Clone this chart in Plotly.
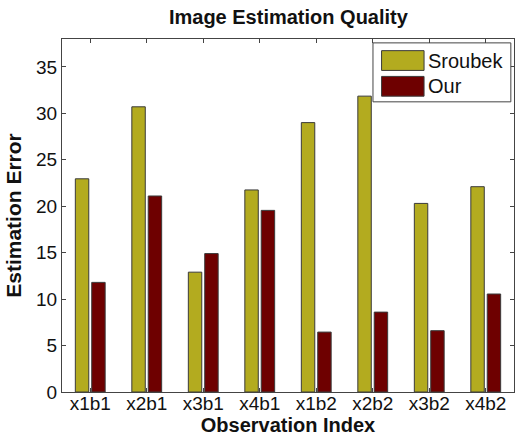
import plotly.graph_objects as go

categories = ["x1b1", "x2b1", "x3b1", "x4b1", "x1b2", "x2b2", "x3b2", "x4b2"]
sroubek = [22.95, 30.7, 12.9, 21.75, 29.0, 31.85, 20.3, 22.1]
our = [11.8, 21.1, 14.9, 19.55, 6.45, 8.6, 6.6, 10.55]
series_names = ["Sroubek", "Our"]
y_ticks = [0, 5, 10, 15, 20, 25, 30, 35]

colors = ["#B3AB1F", "#6E0000"]
FONT = "Liberation Sans, Arial, sans-serif"

fig = go.Figure()
for name, vals, col in zip(series_names, [sroubek, our], colors):
    fig.add_trace(go.Bar(
        x=categories, y=vals, name=name,
        marker=dict(color=col, line=dict(color="#3a3a3a", width=1)),
        showlegend=False,
    ))

axis_common = dict(
    showline=True, linecolor="#444", linewidth=1, mirror="allticks",
    ticks="inside", ticklen=4, tickcolor="#444", showgrid=False, zeroline=False,
    automargin=False,
    tickfont=dict(family=FONT, size=19, color="#111"),
)

fig.update_layout(
    width=515, height=443,
    margin=dict(l=62, r=1, t=39, b=51),
    paper_bgcolor="white", plot_bgcolor="white",
    barmode="group", bargap=0.42, bargroupgap=0.18,
    title=dict(text="<b>Image Estimation Quality</b>", x=0.56, xref="container",
               y=0.962, yanchor="middle", xanchor="center",
               font=dict(family=FONT, size=20, color="#111")),
    xaxis=dict(**axis_common, range=[-0.5, 7.5], ticklabelstandoff=-6,
               title=dict(text="<b>Observation Index</b>", standoff=0,
                          font=dict(family=FONT, size=20, color="#111"))),
    yaxis=dict(**axis_common, range=[0, 38], tickvals=y_ticks,
               title=dict(text="<b>Estimation Error</b>", standoff=8,
                          font=dict(family=FONT, size=21, color="#111"))),
)

# Legend box (drawn to match the large swatches of the original)
lx0, lx1, ly0, ly1 = 0.688, 0.993, 0.822, 0.989
fig.add_shape(type="rect", xref="paper", yref="paper", x0=lx0, x1=lx1, y0=ly0, y1=ly1,
              line=dict(color="#444", width=1), fillcolor="white", layer="above")
entries_y = [0.939, 0.866]
for name, col, yy in zip(series_names, colors, entries_y):
    fig.add_shape(type="rect", xref="paper", yref="paper",
                  x0=0.707, x1=0.801, y0=yy - 0.028, y1=yy + 0.028,
                  line=dict(color="#3a3a3a", width=1), fillcolor=col, layer="above")
    fig.add_annotation(xref="paper", yref="paper", x=0.806, y=yy, text=name,
                       showarrow=False, xanchor="left", yanchor="middle",
                       font=dict(family=FONT, size=20, color="#111"))

fig.write_html("out.html", config={"displayModeBar": False},
               post_script="document.body.style.margin='0';")
